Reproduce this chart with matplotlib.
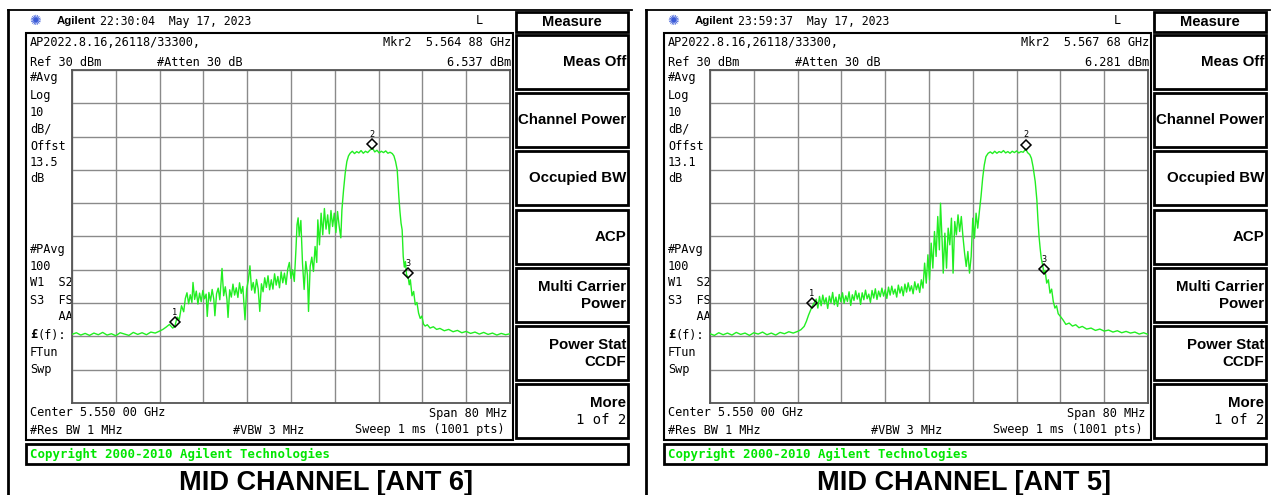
import matplotlib.pyplot as plt
from matplotlib.patches import Rectangle
from matplotlib.transforms import offset_copy

W, H = 1278, 495

# frequency axis: offset from 5.550 GHz centre, 80 MHz span; amplitude: ref 30 dBm, 10 dB/div
span_mhz = 80
ref_dbm = 30
db_per_div = 10

ant6_mhz = [
    -40.0, -39.2, -38.4, -37.6, -36.8, -36.0, -35.2, -34.4, -33.6, -32.8, -32.0, -31.2,
    -30.4, -29.6, -28.8, -28.0, -27.2, -26.4, -25.6, -24.8, -24.0, -23.4,
    -22.8, -22.2, -21.6, -21.2, -20.8, -20.4, -20.0, -19.6, -19.3,
    -19.0, -18.7, -18.4, -18.1, -17.9, -17.6, -17.3, -17.0, -16.7, -16.4, -16.1, -15.8,
    -15.5, -15.3, -15.0, -14.7, -14.4, -14.1, -13.9, -13.6, -13.3, -13.0, -12.6, -12.3,
    -12.0, -11.7, -11.5, -11.2, -10.9, -10.6, -10.3, -10.0, -9.7, -9.4, -9.1, -8.8,
    -8.4, -8.1, -7.8, -7.5, -7.2, -6.9, -6.6, -6.3, -6.0, -5.7, -5.4, -5.1,
    -4.8, -4.5, -4.2, -3.9, -3.6, -3.3, -3.0, -2.7, -2.4, -2.1, -1.8, -1.5,
    -1.2, -0.9, -0.6, -0.3, 0.0, 0.3, 0.6, 0.9, 1.1, 1.3, 1.5, 1.8,
    2.1, 2.4, 2.7, 3.0, 3.2, 3.5, 3.8, 4.1, 4.4, 4.7, 4.9, 5.2,
    5.5, 5.8, 6.1, 6.4, 6.7, 7.0, 7.3, 7.6, 7.9, 8.2, 8.5, 8.8, 9.1, 9.3,
    9.6, 9.9, 10.2, 10.5, 10.8,
    11.2, 11.6, 12.0, 12.4, 12.8, 13.2, 13.6, 14.0, 14.4, 14.88, 15.3, 15.7,
    16.1, 16.5, 16.9, 17.3, 17.7, 18.1, 18.5, 18.8,
    19.1, 19.4, 19.7, 19.9, 20.1, 20.3, 20.5, 20.7, 20.9, 21.1, 21.4, 21.6,
    21.8, 22.1, 22.4, 22.7, 23.0, 23.3, 23.6, 23.9, 24.2, 24.5, 24.9, 25.4,
    26.0, 26.6, 27.2, 28.0, 28.8, 29.6, 30.4, 31.2, 32.0, 32.8, 33.6, 34.4,
    35.2, 36.0, 36.8, 37.6, 38.4, 39.2, 40.0,
]
ant6_dbm = [
    -49.4, -48.9, -49.6, -49.1, -49.7, -49.0, -49.5, -48.8, -49.6, -49.2, -49.8, -48.9,
    -49.3, -49.7, -48.8, -49.4, -48.9, -49.5, -48.7, -49.0, -48.4, -47.9,
    -47.2, -46.4, -47.5, -46.9, -44.2, -44.9, -40.8, -42.6, -38.6,
    -36.9, -40.2, -37.5, -39.8, -33.8, -38.9, -36.4, -40.3, -37.0, -39.6, -36.2, -38.7,
    -37.3, -44.0, -36.8, -39.4, -35.9, -38.8, -43.8, -37.2, -35.5, -39.0, -29.6, -37.8,
    -35.1, -38.9, -44.3, -36.0, -38.2, -34.3, -37.6, -35.4, -38.3, -33.9, -37.1, -35.0,
    -45.0, -35.8, -33.2, -28.8, -36.1, -33.8, -37.0, -32.9, -35.7, -42.5, -34.2, -36.6,
    -32.4, -35.3, -31.8, -36.0, -33.0, -35.8, -31.2, -34.6, -32.0, -35.4, -30.6, -33.9,
    -31.0, -34.4, -29.8, -27.8, -32.6, -30.0, -33.5, -24.0, -16.5, -14.4, -19.8, -15.2,
    -28.0, -35.9, -27.5, -31.5, -42.5, -29.0, -26.2, -30.5, -23.0, -27.8, -15.0, -22.5,
    -13.0, -19.5, -11.6, -17.8, -13.5, -19.2, -12.2, -17.0, -13.0, -18.8, -12.5, -16.9, -20.4, -12.0,
    -6.0, -1.0, 2.5, 4.2, 5.0,
    5.6, 4.9, 5.5, 5.1, 5.8, 5.0, 5.6, 5.2, 5.9, 6.54, 5.4, 5.9,
    5.1, 5.6, 5.2, 5.7, 5.0, 5.3, 4.9, 4.2,
    2.5, 0.0, -8.1, -12.5, -16.0, -18.0, -26.0, -29.2, -27.5, -31.5, -32.2, -34.5,
    -33.0, -37.8, -36.5, -40.5, -39.8, -43.0, -44.6, -43.9, -46.3, -46.9, -46.5, -47.5,
    -47.1, -47.9, -47.6, -48.3, -47.9, -48.6, -48.2, -48.9, -48.5, -49.1, -48.7, -49.3,
    -48.8, -49.4, -49.0, -49.6, -49.1, -49.5, -49.2,
]

ant5_mhz = [
    -40.0, -39.2, -38.4, -37.6, -36.8, -36.0, -35.2, -34.4, -33.6, -32.8, -32.0, -31.2,
    -30.4, -29.6, -28.8, -28.0, -27.2, -26.4, -25.6, -24.8, -24.0, -23.4,
    -22.8, -22.4, -22.0, -21.7, -21.4, -21.0, -20.6,
    -20.3, -20.0, -19.7, -19.4, -19.1, -18.8, -18.5, -18.2, -17.9, -17.6, -17.3, -17.0,
    -16.7, -16.4, -16.1, -15.8, -15.5, -15.2, -14.9, -14.6, -14.3, -14.0, -13.7, -13.4,
    -13.1, -12.8, -12.5, -12.2, -11.9, -11.6, -11.3, -11.0, -10.7, -10.4, -10.1, -9.8,
    -9.5, -9.2, -8.9, -8.6, -8.3, -8.0, -7.7, -7.4, -7.1, -6.8, -6.5, -6.2,
    -5.9, -5.6, -5.3, -5.0, -4.7, -4.4, -4.1, -3.8, -3.5, -3.2, -2.9, -2.6,
    -2.3, -2.0, -1.7, -1.4, -1.1, -0.8, -0.5, -0.2, 0.1, 0.4, 0.7, 1.0, 1.3,
    1.6, 1.9, 2.1, 2.4, 2.6, 2.9, 3.2, 3.5, 3.8, 4.1, 4.4, 4.7,
    5.0, 5.3, 5.6, 5.9, 6.2, 6.5, 6.8, 7.1, 7.4, 7.7, 8.0, 8.3, 8.6, 8.9, 9.2,
    9.5, 9.8, 10.1, 10.4, 10.8,
    11.2, 11.6, 12.0, 12.4, 12.8, 13.2, 13.6, 14.0, 14.4, 14.8, 15.2, 15.6,
    16.0, 16.4, 16.8, 17.2, 17.68, 18.0, 18.4,
    18.7, 19.0, 19.4, 19.7, 19.9, 20.1, 20.3, 20.5, 20.8, 21.0, 21.2, 21.5,
    21.8, 22.1, 22.4, 22.7, 23.0, 23.3, 23.6, 24.0, 24.5, 25.0, 25.6, 26.2,
    26.8, 27.4, 28.0, 28.8, 29.6, 30.4, 31.2, 32.0, 32.8, 33.6, 34.4, 35.2,
    36.0, 36.8, 37.6, 38.4, 39.2, 40.0,
]
ant5_dbm = [
    -49.2, -49.7, -48.9, -49.5, -49.0, -49.6, -48.8, -49.4, -49.0, -49.7, -48.9, -49.3,
    -48.7, -49.5, -49.0, -49.6, -48.8, -49.2, -48.6, -49.0, -48.5, -48.0,
    -47.0, -45.5, -43.6, -42.4, -41.2, -40.0, -38.8,
    -41.5, -38.0, -40.8, -37.6, -40.2, -38.4, -41.6, -37.9, -39.9, -36.8, -40.5, -38.2,
    -41.0, -37.4, -39.6, -36.9, -40.1, -37.8, -39.5, -36.6, -40.7, -37.5, -39.2, -36.3,
    -38.8, -37.0, -40.4, -36.9, -39.0, -36.1, -38.7, -37.3, -39.8, -36.2, -38.5, -35.7,
    -38.9, -36.4, -38.1, -35.5, -37.9, -36.0, -38.6, -35.2, -37.6, -34.9, -37.3, -35.8,
    -38.2, -34.6, -37.0, -35.1, -37.8, -34.3, -36.7, -33.9, -36.4, -34.8, -37.2, -33.6,
    -36.0, -34.2, -36.8, -33.0, -35.5, -28.0, -34.0, -25.5, -33.0, -22.0, -29.5, -18.5, -26.0,
    -14.0, -24.0, -10.0, -21.5, -31.0, -19.0, -29.5, -17.5, -22.5, -14.5, -31.0, -15.5,
    -19.5, -13.5, -18.5, -14.0, -20.0, -25.0, -29.0, -24.5, -31.0, -26.0, -14.5, -20.5, -13.0, -17.5, -12.5,
    -8.0, -2.5, 1.5, 4.0, 5.0,
    5.4, 4.9, 5.6, 5.0, 5.5, 5.2, 5.8, 5.1, 5.5, 5.0, 5.6, 5.2,
    5.7, 5.1, 5.5, 5.3, 6.28, 5.2, 4.6,
    3.5, 1.0, -3.5, -9.0, -15.0, -20.0, -23.5, -26.5, -29.0, -31.0, -30.2, -34.0,
    -33.0, -37.0, -35.8, -39.5, -41.5, -40.8, -43.2, -44.0, -45.1, -46.4, -46.0, -46.9,
    -46.5, -47.4, -47.0, -47.8, -47.5, -48.2, -47.8, -48.4, -48.1, -48.7, -48.3, -48.9,
    -48.5, -49.0, -48.7, -49.3, -48.9, -49.4,
]

ant6_mkr_mhz = [-21.2, 14.88, 21.4]
ant6_mkr_dbm = [-46.9, 6.537, -32.2]
ant5_mkr_mhz = [-21.4, 17.68, 21.0]
ant5_mkr_dbm = [-41.2, 6.281, -31.0]

panels = [
    dict(dx=0, time="22:30:04", mkr="Mkr2  5.564 88 GHz", lvl="6.537 dBm", offst="13.5",
         title="MID CHANNEL [ANT 6]", f=ant6_mhz, p=ant6_dbm, mf=ant6_mkr_mhz, mp=ant6_mkr_dbm),
    dict(dx=638, time="23:59:37", mkr="Mkr2  5.567 68 GHz", lvl="6.281 dBm", offst="13.1",
         title="MID CHANNEL [ANT 5]", f=ant5_mhz, p=ant5_dbm, mf=ant5_mkr_mhz, mp=ant5_mkr_dbm),
]

menu = [["Meas Off"], ["Channel Power"], ["Occupied BW"], ["ACP"],
        ["Multi Carrier", "Power"], ["Power Stat", "CCDF"], ["More", "1 of 2"]]

MONO = ["DejaVu Sans Mono"]
SANS = ["Liberation Sans", "DejaVu Sans"]
GREEN = "#22ee22"

fig = plt.figure(figsize=(W / 100, H / 100), dpi=100)
bg = fig.add_axes([0, 0, 1, 1])
bg.set_xlim(0, W)
bg.set_ylim(H, 0)
bg.axis("off")


def txt(x, y, s, ha="left", size=8.6, weight="normal", color="black", family=MONO):
    bg.text(x, y, s, ha=ha, va="center", fontsize=size, fontweight=weight,
            color=color, family=family)


def box(x, y, w, h, lw=1.6, ec="black"):
    bg.add_patch(Rectangle((x, y), w, h, fill=False, ec=ec, lw=lw))


for pnl in panels:
    dx = pnl["dx"]
    # outer frame (left + top)
    bg.plot([8 + dx, 8 + dx], [10, H], color="black", lw=2)
    bg.plot([8 + dx, 632 + dx], [10, 10], color="black", lw=1.3)

    # header
    txt(35 + dx, 21, "\u273a", ha="center", size=10, color="#3a5ad8", family=["DejaVu Sans"])
    txt(57 + dx, 21, "Agilent", size=8.2, weight="bold", family=SANS)
    txt(100 + dx, 21, pnl["time"] + "  May 17, 2023", size=8.3)
    txt(479 + dx, 21, "L", ha="center", size=8.6)

    # display box
    box(26 + dx, 33, 487, 407, lw=1.5)
    txt(30 + dx, 43, "AP2022.8.16,26118/33300,")
    txt(30 + dx, 62, "Ref 30 dBm")
    txt(157 + dx, 62, "#Atten 30 dB")
    txt(511 + dx, 43, pnl["mkr"], ha="right")
    txt(511 + dx, 62, pnl["lvl"], ha="right")

    left = [("#Avg", 78), ("Log", 95), ("10", 112), ("dB/", 129), ("Offst", 146),
            (pnl["offst"], 162), ("dB", 178), ("#PAvg", 249), ("100", 266),
            ("W1  S2", 283), ("S3  FS", 300), ("    AA", 317), ("FTun", 352), ("Swp", 369)]
    for s, y in left:
        txt(30 + dx, y, s)
    txt(30 + dx, 335, "\u00a3", weight="bold")
    txt(37 + dx, 335, "(f):")

    txt(30 + dx, 413, "Center 5.550 00 GHz")
    txt(507 + dx, 413, "Span 80 MHz", ha="right")
    txt(30 + dx, 430, "#Res BW 1 MHz")
    txt(233 + dx, 430, "#VBW 3 MHz")
    txt(505 + dx, 430, "Sweep 1 ms (1001 pts)", ha="right")

    # copyright bar
    box(26 + dx, 444, 602, 20, lw=2)
    txt(30 + dx, 454, "Copyright 2000-2010 Agilent Technologies", size=8.9,
        weight="bold", color="#00e600")

    # softkey menu
    box(516 + dx, 12, 112, 20, lw=2)
    txt(572 + dx, 22, "Measure", ha="center", size=10.5, weight="bold", family=SANS)
    for i, lines in enumerate(menu):
        top = 35 + i * 58.2
        box(516 + dx, top, 112, 54, lw=2)
        if len(lines) == 1:
            txt(626 + dx, top + 27, lines[0], ha="right", size=10.8, weight="bold", family=SANS)
        else:
            txt(626 + dx, top + 19, lines[0], ha="right", size=10.8, weight="bold", family=SANS)
            w2 = "normal" if lines[1] == "1 of 2" else "bold"
            fam = MONO if w2 == "normal" else SANS
            txt(626 + dx, top + 36, lines[1], ha="right", size=10.0 if w2 == "normal" else 10.8,
                weight=w2, family=fam)

    # caption
    bg.text(326 + dx, 490, pnl["title"], ha="center", va="baseline", fontsize=19.5,
            fontweight="bold", family=SANS)

    # spectrum graticule
    x0, x1, y0, y1 = 72 + dx, 510 + dx, 70, 403
    ax = fig.add_axes([x0 / W, 1 - y1 / H, (x1 - x0) / W, (y1 - y0) / H])
    ax.set_xlim(-span_mhz / 2, span_mhz / 2)
    ax.set_ylim(ref_dbm - 10 * db_per_div, ref_dbm)
    ax.set_xticks([-span_mhz / 2 + k * span_mhz / 10 for k in range(11)])
    ax.set_yticks([ref_dbm - k * db_per_div for k in range(11)])
    ax.tick_params(length=0, labelbottom=False, labelleft=False)
    ax.grid(True, color="#8a8a8a", lw=1.0)
    ax.set_facecolor("white")
    for sp in ax.spines.values():
        sp.set_color("#555555")
        sp.set_linewidth(1.3)

    ax.plot(pnl["f"], pnl["p"], color=GREEN, lw=1.0, zorder=3)

    mk_tr = offset_copy(ax.transData, fig=fig, x=0, y=4, units="dots")
    ax.plot(pnl["mf"], pnl["mp"], ls="none", marker="D", ms=4.8, mfc="none", mec="black",
            mew=1.1, transform=mk_tr, zorder=4)
    for k, (mf, mp) in enumerate(zip(pnl["mf"], pnl["mp"])):
        ax.annotate(str(k + 1), (mf, mp), xytext=(0, 14), textcoords="offset pixels",
                    ha="center", va="center", fontsize=6.2, family=MONO, zorder=5)

fig.savefig("out.png", dpi=100)
